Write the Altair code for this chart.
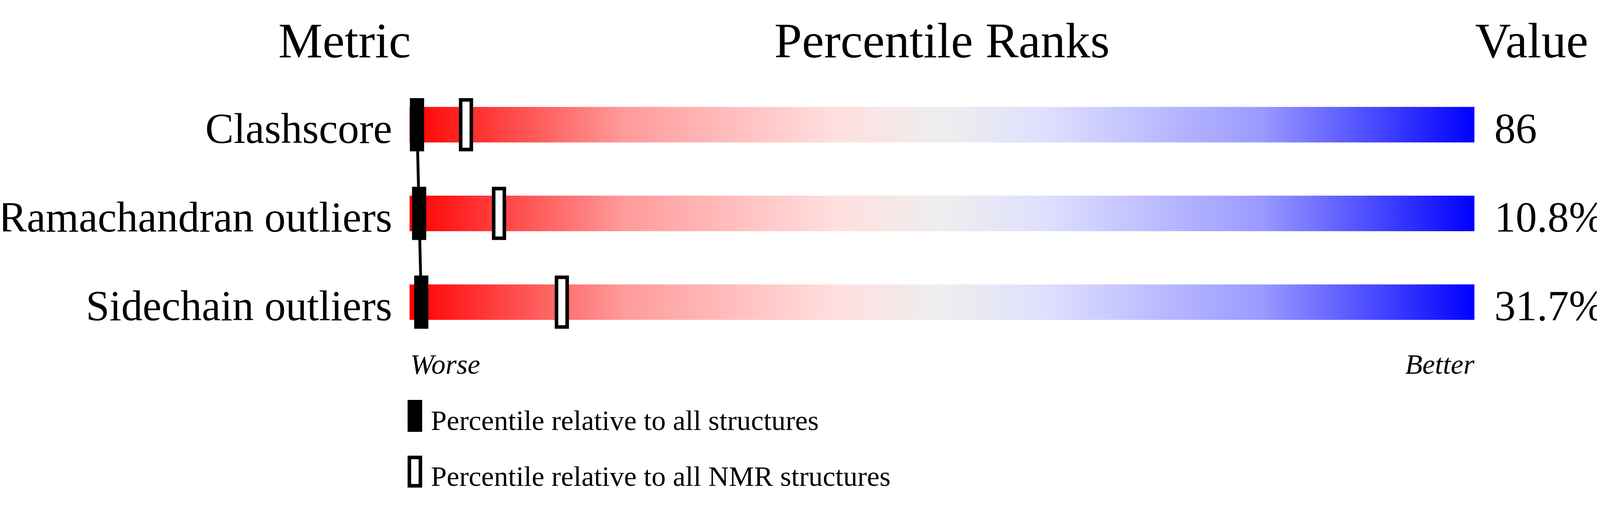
import altair as alt
import pandas as pd

# ---- data ----
metrics = ["Clashscore", "Ramachandran outliers", "Sidechain outliers"]
metric_values = ["86", "10.8%", "31.7%"]
pct_all = [0.7, 0.9, 1.1]        # percentile relative to all structures
pct_nmr = [5.3, 8.4, 14.3]       # percentile relative to all NMR structures
legend_labels = ["Percentile relative to all structures",
                 "Percentile relative to all NMR structures"]
scale_ends = ["Worse", "Better"]
headers = ["Metric", "Percentile Ranks", "Value"]
bar_start = [0, 0, 0]
bar_end = [100, 100, 100]

FONT = "Liberation Serif"

bars = pd.DataFrame({"metric": metrics, "start": bar_start, "end": bar_end,
                     "value": metric_values})
markers = pd.DataFrame({
    "metric": metrics + metrics,
    "kind": [legend_labels[0]] * 3 + [legend_labels[1]] * 3,
    "pct": pct_all + pct_nmr,
    "order": [0, 1, 2, 0, 1, 2],
})

xs = alt.Scale(domain=[0, 100], nice=False, zero=False)
ys = alt.Scale(domain=metrics, paddingInner=0.6, paddingOuter=0.91)
Y = alt.Y("metric:N", scale=ys, axis=None, sort=metrics)

grad = alt.Gradient(
    gradient="linear",
    stops=[
        alt.GradientStop(color="#ff0000", offset=0.0),
        alt.GradientStop(color="#ff9a9a", offset=0.2),
        alt.GradientStop(color="#ffdfdf", offset=0.4),
        alt.GradientStop(color="#eeeeee", offset=0.5),
        alt.GradientStop(color="#dedeff", offset=0.6),
        alt.GradientStop(color="#9a9aff", offset=0.8),
        alt.GradientStop(color="#0000ff", offset=1.0),
    ],
    x1=0, x2=1, y1=0, y2=0,
)

bar_layer = alt.Chart(bars).mark_rect(fill=grad).encode(
    x=alt.X("start:Q", scale=xs, axis=None),
    x2="end:Q",
    y=Y,
)

line_layer = alt.Chart(markers).transform_filter(
    alt.datum.kind == legend_labels[0]
).mark_line(color="black", strokeWidth=8).encode(
    x=alt.X("pct:Q", scale=xs, axis=None),
    y=Y,
    order="order:Q",
)

tick_layer = alt.Chart(markers).mark_tick(
    stroke="black", strokeWidth=10, thickness=30, size=140, opacity=1
).encode(
    x=alt.X("pct:Q", scale=xs, axis=None),
    y=Y,
    fill=alt.Fill(
        "kind:N",
        scale=alt.Scale(domain=legend_labels, range=["black", "white"]),
        legend=alt.Legend(
            title=None, orient="none", legendX=-30, legendY=1053,
            direction="vertical", padding=0,
            symbolType="M-0.3875,-1H0.3875V1H-0.3875Z",
            symbolSize=6400, symbolStrokeWidth=10, symbolStrokeColor="black",
            symbolOpacity=1,
            labelFont=FONT, labelFontSize=80, labelLimit=0, labelColor="black",
            labelOffset=0, rowPadding=37, labelBaseline="line-top",
        ),
    ),
)

label_layer = alt.Chart(bars).mark_text(
    font=FONT, fontSize=120, align="right", baseline="alphabetic",
    dx=-49, dy=51, color="black"
).encode(x=alt.datum(0), y=Y, text="metric:N")

value_layer = alt.Chart(bars).mark_text(
    font=FONT, fontSize=120, align="left", baseline="alphabetic",
    dx=56, dy=51, color="black"
).encode(x=alt.datum(100), y=Y, text="value:N")


def header(txt, xpos, align, dx):
    return alt.Chart(pd.DataFrame({"t": [txt]})).mark_text(
        font=FONT, fontSize=140, align=align, baseline="alphabetic",
        dx=dx, color="black"
    ).encode(x=alt.datum(xpos), y=alt.value(88), text="t:N")


def end_label(txt, xpos, align, dx):
    return alt.Chart(pd.DataFrame({"t": [txt]})).mark_text(
        font=FONT, fontSize=80, fontStyle="italic", align=align,
        baseline="alphabetic", dx=dx, color="black"
    ).encode(x=alt.datum(xpos), y=alt.value(979), text="t:N")


chart = alt.layer(
    bar_layer, line_layer, tick_layer, label_layer, value_layer,
    header(headers[0], 0, "center", -183),
    header(headers[1], 50, "center", 0),
    header(headers[2], 100, "left", 2),
    end_label(scale_ends[0], 0, "left", 2),
    end_label(scale_ends[1], 100, "right", 0),
).properties(
    width=3000, height=1055,
    autosize=alt.AutoSizeParams(type="none"),
    padding={"left": 1145, "top": 0, "right": 345, "bottom": 240},
).configure(
    style={"guide-label": {"lineHeight": 34}},
    view=alt.ViewConfig(stroke=None),
)

chart.save("out.html", embed_options={"renderer": "svg", "actions": False})
